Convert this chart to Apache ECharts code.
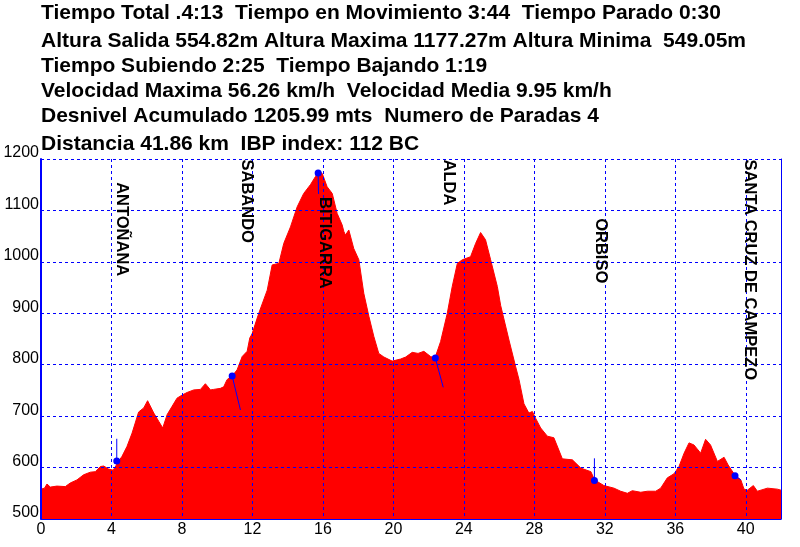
<!DOCTYPE html>
<html><head><meta charset="utf-8">
<script src="https://cdn.jsdelivr.net/npm/echarts@6/dist/echarts.min.js"></script>
<style>html,body{margin:0;padding:0;background:#fff}#c{width:800px;height:547px}</style>
</head><body><div id="c"></div>
<script>
// ---- data ----
const headerLines = [
  "Tiempo Total .4:13  Tiempo en Movimiento 3:44  Tiempo Parado 0:30",
  "Altura Salida 554.82m Altura Maxima 1177.27m Altura Minima  549.05m",
  "Tiempo Subiendo 2:25  Tiempo Bajando 1:19",
  "Velocidad Maxima 56.26 km/h  Velocidad Media 9.95 km/h",
  "Desnivel Acumulado 1205.99 mts  Numero de Paradas 4",
  "Distancia 41.86 km  IBP index: 112 BC"
];
const distKm = [0.00,0.20,0.34,0.53,0.90,1.38,1.66,2.04,2.42,2.80,3.08,3.37,3.56,3.84,4.10,4.20,4.40,4.60,4.88,5.17,5.54,5.83,6.05,6.40,6.68,6.91,7.16,7.44,7.72,8.01,8.29,8.67,9.05,9.33,9.62,9.80,10.18,10.37,10.56,10.85,11.13,11.42,11.70,11.85,11.98,12.36,12.84,13.12,13.50,13.78,14.16,14.54,14.91,15.29,15.58,15.77,15.96,16.24,16.53,16.81,17.09,17.19,17.28,17.47,17.75,18.04,18.32,18.61,18.89,19.17,19.46,19.93,20.41,20.70,21.07,21.40,21.73,22.11,22.36,22.68,23.06,23.34,23.63,23.91,24.38,24.67,24.95,25.23,25.52,25.90,26.09,26.56,26.94,27.13,27.41,27.69,27.89,28.07,28.36,28.74,29.11,29.59,30.16,30.64,31.21,31.42,31.95,32.52,32.90,33.28,33.56,34.04,34.42,34.89,35.17,35.55,35.93,36.21,36.50,36.78,37.06,37.44,37.72,38.00,38.39,38.77,39.00,39.39,39.72,39.90,40.09,40.43,40.66,41.23,41.80,42.00];
const elevM = [558,560,568,562,564,563,570,576,586,591,592,602,603,597,595,596,612,622,641,667,708,716,730,706,690,677,703,719,735,741,746,751,752,763,751,752,754,757,771,778,790,816,826,852,860,900,945,994,997,1036,1068,1107,1133,1150,1166,1177,1172,1146,1133,1094,1072,1059,1052,1062,1026,1004,939,894,855,822,815,807,811,815,824,822,826,816,813,845,900,952,997,1004,1010,1036,1057,1043,1004,952,915,848,796,771,724,706,709,696,677,661,658,617,615,599,592,576,565,560,554,550,555,552,554,554,560,580,588,602,628,648,644,628,655,644,612,620,605,585,576,558,556,565,554,560,558,556];
const waypointNames = ["ANTOÑANA","SABANDO","BITIGARRA","ALDA","ORBISO","SANTA CRUZ DE CAMPEZO"];
const waypointKm    = [4.30, 10.85, 15.73, 22.38, 31.41, 39.39];
const waypointElev  = [613, 778, 1173, 813, 575, 584];
const pinEndKm      = [4.30, 11.32, 15.75, 22.83, 31.41, 39.72];
const pinEndElev    = [656, 712, 1132, 756, 618, 576];
const xRange = [0, 42], xStep = 4;
const yRange = [500, 1200], yStep = 100;

// ---- layout (not data) ----
const labelAnchorKm   = [4.56, 11.66, 16.09, 23.13, 31.77, 40.23];
const labelAnchorElev = [1155, 1199, 1126, 1199, 1085, 1199];

const chart = echarts.init(document.getElementById('c'), null, {renderer:'canvas'});
const BLUE = '#0000ff';
const FONT = '"Liberation Sans", Arial, sans-serif';

const profile = distKm.map((d,i)=>[d, elevM[i]]);
const pinSeries = waypointKm.map((k,i)=>({
  type:'line', data:[[k, waypointElev[i]],[pinEndKm[i], pinEndElev[i]]], zlevel:2,
  symbol:'none', lineStyle:{color:BLUE, width:1}, z:6, silent:true
}));

chart.setOption({
  backgroundColor:'#ffffff',
  animation:false,
  grid:{left:41, right:19, top:159, bottom:28, containLabel:false, outerBoundsMode:'none'},
  graphic: headerLines.map((t,i)=>({
    type:'text', left:41, top:[13,41,66,91,116,144][i]-10.5, zlevel:2,
    style:{text:t, fill:'#000', font:'bold 21px '+FONT, verticalAlign:'top'}, z:20
  })),
  xAxis:{type:'value', min:xRange[0], max:xRange[1], interval:xStep, zlevel:1, z:3,
    axisLine:{show:true, onZero:false, lineStyle:{color:BLUE, width:1}},
    axisTick:{show:false},
    axisLabel:{color:'#000', fontSize:16, fontFamily:FONT, margin:3,
      formatter:v=> (v%xStep===0 ? String(v) : '')},
    splitLine:{show:true, lineStyle:{color:BLUE, width:1, type:[3,3]}}
  },
  yAxis:[{type:'value', min:yRange[0], max:yRange[1], interval:yStep, zlevel:1, z:3,
    axisLine:{show:true, lineStyle:{color:BLUE, width:2}},
    axisTick:{show:false},
    axisLabel:{color:'#000', fontSize:16, fontFamily:FONT, margin:2, verticalAlign:'bottom', lineHeight:12,
      formatter:v=>String(v)},
    splitLine:{show:true, lineStyle:{color:BLUE, width:1, type:[3,3]}}
  },{type:'value', position:'right', min:yRange[0], max:yRange[1], interval:yStep, zlevel:1, z:3,
    axisLine:{show:true, lineStyle:{color:BLUE, width:1}},
    axisTick:{show:false}, axisLabel:{show:false}, splitLine:{show:false}
  }],
  series:[
    {type:'line', data:profile, symbol:'none', z:1, zlevel:0,
      lineStyle:{color:'#ff0000', width:1},
      areaStyle:{color:'#ff0000', opacity:1, origin:'start'}},
    ...pinSeries,
    {type:'scatter', data:waypointKm.map((k,i)=>[k, waypointElev[i]]), symbolSize:7, zlevel:2,
      itemStyle:{color:BLUE, opacity:1}, z:7},
    {type:'scatter', data:labelAnchorKm.map((k,i)=>({value:[k, labelAnchorElev[i]], name:waypointNames[i]})),
      symbolSize:0, z:8, zlevel:2, clip:false, itemStyle:{opacity:1},
      label:{show:true, position:[0,0], rotate:-90, align:'left', verticalAlign:'middle', opacity:1,
        formatter:p=>p.name, color:'#000000', fontSize:16.5, fontWeight:'bold', fontFamily:FONT}}
  ]
});
</script></body></html>
